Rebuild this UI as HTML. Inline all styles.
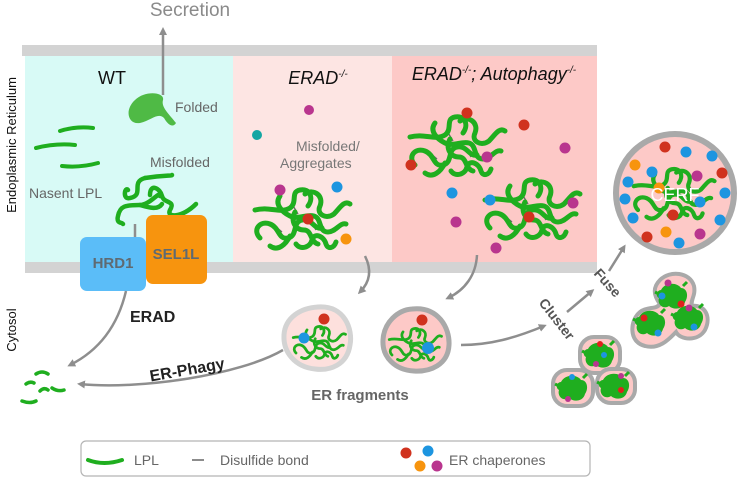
<!DOCTYPE html>
<html><head><meta charset="utf-8"><style>
html,body{margin:0;padding:0;background:#fff;}
svg{display:block;font-family:"Liberation Sans",Helvetica,Arial,sans-serif;}
</style></head><body>
<svg width="740" height="478" viewBox="0 0 740 478" xmlns="http://www.w3.org/2000/svg">
<defs>
<marker id="ah" markerWidth="8" markerHeight="8" refX="5" refY="4" orient="auto" markerUnits="userSpaceOnUse">
<path d="M0,0 L8,4 L0,8 Z" fill="#8e8e8e"/>
</marker>
<g id="tangle" fill="none" stroke="#1fae1f" stroke-width="5" stroke-linecap="round">
<path d="M-45,-8 C-30,-12 -20,-4 -10,-10 C-2,-16 -10,-26 0,-28 C10,-30 14,-20 8,-12"/>
<path d="M-40,20 C-48,12 -40,2 -30,6 C-20,10 -22,22 -12,20 C-2,18 -8,4 2,2 C12,0 14,12 22,10"/>
<path d="M-20,-22 C-26,-14 -18,-6 -10,-2 C-2,2 6,-4 14,-2 C22,0 18,14 28,14 C36,14 40,4 46,6"/>
<path d="M5,-24 C14,-30 24,-22 20,-12 C16,-4 26,2 34,-4 C40,-10 44,-18 50,-14"/>
<path d="M-30,28 C-22,34 -14,26 -10,18 M-4,26 C0,32 10,30 12,22 C14,14 24,18 26,26 C28,32 34,30 36,24"/>
<path d="M-5,-6 C-10,4 -4,12 4,12 C12,12 10,24 18,26"/>
</g>
<g id="tbond" stroke="#666" stroke-width="1.3"><line x1="-8" y1="-14" x2="-2" y2="-4"/><line x1="10" y1="2" x2="16" y2="12"/><line x1="-25" y1="8" x2="-18" y2="14"/></g>
<g id="mini" fill="#1fae1f"><path d="M-12,-6 C-8,-14 4,-14 8,-8 C14,-8 16,0 12,6 C10,14 0,14 -4,10 C-10,14 -16,8 -14,2 C-18,0 -16,-6 -12,-6Z"/><path d="M-14,-2 l-4,-2 M10,-10 l4,-4" stroke="#1fae1f" stroke-width="3"/></g>
</defs>

<!-- ER panels -->
<rect x="25" y="56" width="208" height="206" fill="#d8faf6"/>
<rect x="233" y="56" width="159" height="206" fill="#fde5e3"/>
<rect x="392" y="56" width="205" height="206" fill="#fdc9c7"/>
<rect x="22" y="45" width="575" height="11" fill="#d3d3d3"/>
<rect x="25" y="262" width="572" height="11" fill="#d3d3d3"/>

<!-- Secretion -->
<text x="190" y="16" font-size="19" fill="#8a8a8a" text-anchor="middle">Secretion</text>
<line x1="163" y1="95" x2="163" y2="30" stroke="#8e8e8e" stroke-width="2.5" marker-end="url(#ah)"/>

<text transform="translate(16,145) rotate(-90)" font-size="13" fill="#111" text-anchor="middle">Endoplasmic Reticulum</text>
<text transform="translate(16,330) rotate(-90)" font-size="13" fill="#111" text-anchor="middle">Cytosol</text>

<!-- WT -->
<text x="112" y="84" font-size="18" fill="#111" text-anchor="middle">WT</text>
<path d="M135,100 C145,90 165,92 163,100 C161,107 168,113 176,123 C173,128 168,125 164,118 C158,112 152,120 140,123 C128,125 124,110 135,100 Z" fill="#4fba45"/>
<text x="175" y="112" font-size="14" fill="#666">Folded</text>
<g stroke="#1fae1f" stroke-width="4" fill="none" stroke-linecap="round">
<path d="M60,131 Q76,126 93,128"/>
<path d="M36,148 Q56,143 75,145"/>
<path d="M62,166 Q80,168 98,163"/>
</g>
<text x="29" y="198" font-size="14" fill="#666">Nasent LPL</text>
<text x="150" y="167" font-size="14" fill="#666">Misfolded</text>
<g fill="none" stroke="#1fae1f" stroke-width="4.5" stroke-linecap="round">
<path d="M145,178 C165,175 172,176 172,175"/>
<path d="M145,178 C130,182 145,195 130,198 C122,200 125,186 128,190"/>
<path d="M150,195 C150,183 160,188 162,196 C164,204 176,200 170,210 C166,218 182,218 196,204"/>
<path d="M160,196 C160,190 150,205 140,205 C125,205 120,206 118,216 C116,224 122,222 123,224"/>
<path d="M140,205 C150,208 158,210 162,204"/>
</g>
<line x1="135" y1="224" x2="135" y2="237" stroke="#8e8e8e" stroke-width="2.5"/>
<rect x="146" y="215" width="61" height="69" rx="7" fill="#f7940e"/>
<rect x="80" y="237" width="66" height="54" rx="7" fill="#5bbdf8"/>
<text x="113" y="268" font-size="15" font-weight="bold" fill="#5f6a72" text-anchor="middle">HRD1</text>
<text x="176" y="259" font-size="15" font-weight="bold" fill="#5f6a72" text-anchor="middle">SEL1L</text>

<!-- ERAD -/- -->
<text x="318" y="84" font-size="18" font-style="italic" fill="#111" text-anchor="middle">ERAD<tspan font-size="10" dy="-7">-/-</tspan></text>
<circle cx="309" cy="110" r="5" fill="#b9358e"/>
<circle cx="257" cy="135" r="5" fill="#14a6a3"/>
<text x="296" y="151" font-size="14" fill="#777">Misfolded/</text>
<text x="280" y="168" font-size="14" fill="#777">Aggregates</text>
<use href="#tbond" x="300" y="218"/>
<use href="#tangle" x="300" y="218"/>
<circle cx="280" cy="190" r="5.5" fill="#b9358e"/>
<circle cx="337" cy="187" r="5.5" fill="#1d95e0"/>
<circle cx="308" cy="219" r="5.5" fill="#d0321e"/>
<circle cx="346" cy="239" r="5.5" fill="#f7940e"/>

<!-- double -/- -->
<text x="494" y="80" font-size="18" font-style="italic" fill="#111" text-anchor="middle">ERAD<tspan font-size="10" dy="-7">-/-</tspan><tspan dy="7">; Autophagy</tspan><tspan font-size="10" dy="-7">-/-</tspan></text>
<use href="#tbond" x="455" y="145"/>
<use href="#tangle" x="455" y="145"/>
<use href="#tbond" x="530" y="208"/>
<use href="#tangle" x="530" y="208"/>
<circle cx="467" cy="113" r="5.5" fill="#d0321e"/>
<circle cx="524" cy="125" r="5.5" fill="#d0321e"/>
<circle cx="411" cy="165" r="5.5" fill="#d0321e"/>
<circle cx="565" cy="148" r="5.5" fill="#b9358e"/>
<circle cx="487" cy="157" r="5.5" fill="#b9358e"/>
<circle cx="573" cy="203" r="5.5" fill="#b9358e"/>
<circle cx="456" cy="222" r="5.5" fill="#b9358e"/>
<circle cx="496" cy="248" r="5.5" fill="#b9358e"/>
<circle cx="452" cy="193" r="5.5" fill="#1d95e0"/>
<circle cx="490" cy="200" r="5.5" fill="#1d95e0"/>
<circle cx="529" cy="217" r="5.5" fill="#d0321e"/>

<!-- CERF -->
<circle cx="675" cy="193" r="59" fill="#fdc9c7" stroke="#a9a9a9" stroke-width="6"/>
<use href="#tangle" transform="translate(672,193) scale(0.85)"/>
<g>
<circle cx="665" cy="147" r="5.5" fill="#d0321e"/><circle cx="686" cy="152" r="5.5" fill="#1d95e0"/><circle cx="712" cy="156" r="5.5" fill="#1d95e0"/>
<circle cx="635" cy="165" r="5.5" fill="#f7940e"/><circle cx="652" cy="172" r="5.5" fill="#1d95e0"/><circle cx="722" cy="173" r="5.5" fill="#d0321e"/>
<circle cx="628" cy="182" r="5.5" fill="#1d95e0"/><circle cx="697" cy="176" r="5.5" fill="#b9358e"/><circle cx="659" cy="188" r="5.5" fill="#f7940e"/>
<circle cx="725" cy="193" r="5.5" fill="#1d95e0"/><circle cx="625" cy="199" r="5.5" fill="#1d95e0"/><circle cx="700" cy="202" r="5.5" fill="#1d95e0"/>
<circle cx="673" cy="215" r="5.5" fill="#d0321e"/><circle cx="633" cy="218" r="5.5" fill="#1d95e0"/><circle cx="720" cy="220" r="5.5" fill="#1d95e0"/>
<circle cx="666" cy="232" r="5.5" fill="#f7940e"/><circle cx="647" cy="237" r="5.5" fill="#d0321e"/><circle cx="700" cy="234" r="5.5" fill="#b9358e"/><circle cx="679" cy="243" r="5.5" fill="#1d95e0"/>
</g>
<text x="675" y="201" font-size="18" fill="#fff" text-anchor="middle">CERF</text>

<!-- arrows in cytosol -->
<g fill="none" stroke="#8e8e8e" stroke-width="2.5">
<path d="M126,291 C118,325 100,350 70,365" marker-end="url(#ah)"/>
<path d="M283,350 C240,375 140,390 80,384" marker-end="url(#ah)"/>
<path d="M365,256 C372,270 370,282 360,292" marker-end="url(#ah)"/>
<path d="M477,255 C476,275 465,290 448,298" marker-end="url(#ah)"/>
<path d="M461,345 C490,345 515,338 544,326" marker-end="url(#ah)"/>
<path d="M567,312 L592,291" marker-end="url(#ah)"/>
<path d="M609,271 L624,247" marker-end="url(#ah)"/>
</g>
<text x="130" y="322" font-size="16" font-weight="bold" fill="#222">ERAD</text>
<text transform="translate(188,375) rotate(-10)" font-size="16" font-weight="bold" fill="#222" text-anchor="middle">ER-Phagy</text>

<!-- degraded fragments -->
<g fill="none" stroke="#1fae1f" stroke-width="3.5" stroke-linecap="round">
<path d="M36,374 Q42,370 48,374"/>
<path d="M26,384 Q30,381 34,383"/>
<path d="M40,391 Q44,387 48,390"/>
<path d="M52,388 Q58,392 64,390"/>
<path d="M22,401 Q30,404 36,401"/>
</g>

<!-- ER fragments -->
<path d="M318,307 C345,305 353,330 350,345 C347,365 330,371 315,369 C295,367 283,352 284,335 C285,318 300,308 318,307Z" fill="#fde0dd" stroke="#d3d3d3" stroke-width="5"/>
<use href="#tangle" transform="translate(318,342) scale(0.55)"/>
<circle cx="324" cy="319" r="5.5" fill="#d0321e"/><circle cx="304" cy="338" r="5.5" fill="#1d95e0"/>
<path d="M412,309 C438,306 450,328 449,345 C448,365 430,372 414,371 C395,370 382,357 383,340 C384,322 398,310 412,309Z" fill="#fdc9c7" stroke="#a9a9a9" stroke-width="5"/>
<use href="#tangle" transform="translate(414,344) scale(0.55)"/>
<circle cx="422" cy="320" r="5.5" fill="#d0321e"/><circle cx="428" cy="348" r="6" fill="#1d95e0"/>
<text x="360" y="400" font-size="15" font-weight="bold" fill="#666" text-anchor="middle">ER fragments</text>

<text transform="translate(553,322) rotate(52)" font-size="14" font-weight="bold" fill="#555" text-anchor="middle">Cluster</text>
<text transform="translate(604,286) rotate(48)" font-size="14" font-weight="bold" fill="#555" text-anchor="middle">Fuse</text>

<!-- small clusters -->
<g fill="#fdc9c7" stroke="#a9a9a9" stroke-width="4">
<rect x="580" y="337" width="40" height="36" rx="14"/>
<rect x="553" y="370" width="40" height="36" rx="14"/>
<rect x="597" y="369" width="38" height="34" rx="14"/>
</g>
<use href="#mini" x="600" y="355"/><use href="#mini" x="573" y="388"/><use href="#mini" x="615" y="386"/>
<circle cx="600" cy="344" r="3" fill="#e0211e"/><circle cx="604" cy="355" r="3" fill="#1d95e0"/><circle cx="596" cy="364" r="3" fill="#b9358e"/>
<circle cx="572" cy="377" r="3" fill="#1d95e0"/><circle cx="568" cy="399" r="3" fill="#b9358e"/>
<circle cx="621" cy="376" r="3" fill="#b9358e"/><circle cx="621" cy="390" r="3" fill="#e0211e"/>

<!-- fused group -->
<g fill="#fdc9c7" stroke="#a9a9a9" stroke-width="4">
<path d="M660,280 C670,270 690,272 694,286 C696,296 690,300 692,306 C704,304 712,316 705,330 C698,342 680,340 676,332 C670,338 660,350 645,346 C628,342 630,320 640,312 C648,306 656,310 660,304 C654,296 652,288 660,280Z"/>
</g>
<use href="#mini" x="673" y="296"/><use href="#mini" x="651" y="323"/><use href="#mini" x="689" y="318"/>
<circle cx="668" cy="283" r="3.5" fill="#b9358e"/><circle cx="662" cy="296" r="3.5" fill="#1d95e0"/><circle cx="681" cy="304" r="3.5" fill="#e0211e"/>
<circle cx="689" cy="308" r="3.5" fill="#b9358e"/><circle cx="644" cy="318" r="3.5" fill="#e0211e"/><circle cx="658" cy="333" r="3.5" fill="#1d95e0"/><circle cx="694" cy="327" r="3.5" fill="#1d95e0"/>

<!-- Legend -->
<rect x="81" y="441" width="509" height="35" rx="5" fill="#fff" stroke="#b5b5b5" stroke-width="1.2"/>
<path d="M88,460 Q104,466 122,460" fill="none" stroke="#1fae1f" stroke-width="4" stroke-linecap="round"/>
<text x="134" y="465" font-size="14" fill="#666">LPL</text>
<line x1="192" y1="460" x2="204" y2="460" stroke="#666" stroke-width="1.5"/>
<text x="220" y="465" font-size="14" fill="#666">Disulfide bond</text>
<circle cx="406" cy="453" r="5.5" fill="#d0321e"/><circle cx="428" cy="451" r="5.5" fill="#1d95e0"/>
<circle cx="420" cy="466" r="5.5" fill="#f7940e"/><circle cx="437" cy="466" r="5.5" fill="#b9358e"/>
<text x="449" y="465" font-size="14" fill="#666">ER chaperones</text>
</svg>
</body></html>
